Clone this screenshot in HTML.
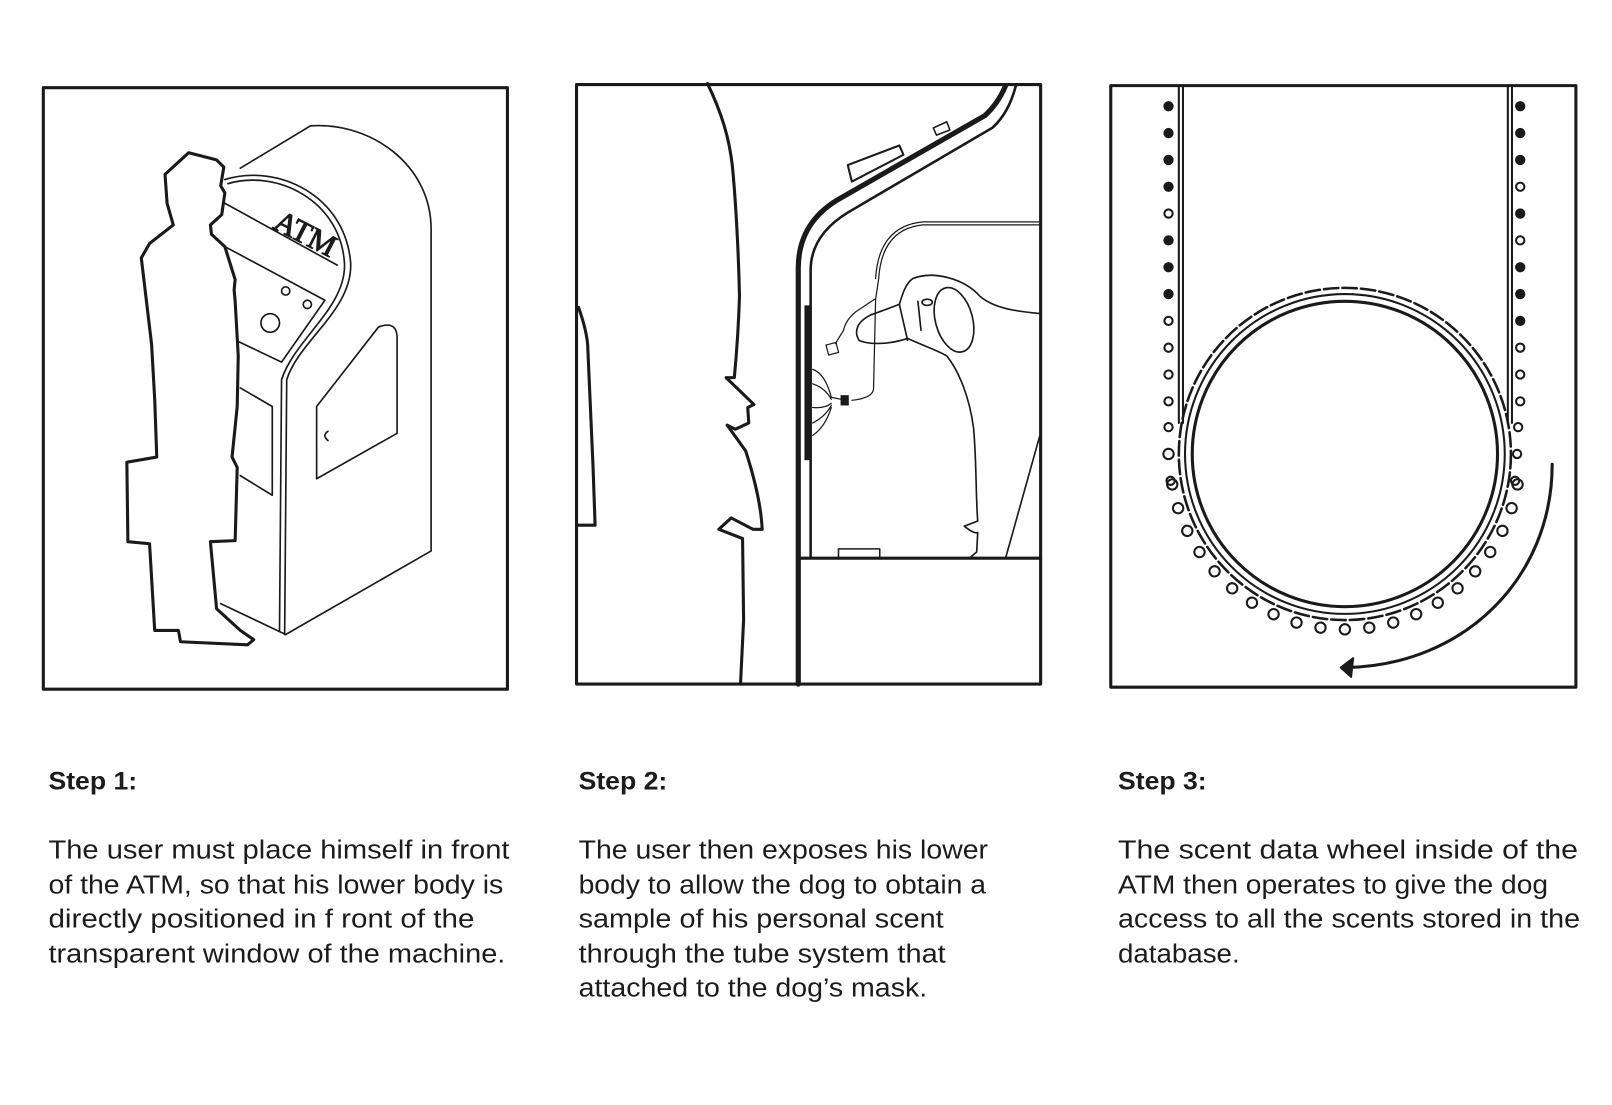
<!DOCTYPE html>
<html><head><meta charset="utf-8"><style>
html,body{margin:0;padding:0;background:#fff}
svg{display:block}
text{font-family:"Liberation Sans",sans-serif;fill:#1c1c1c}
</style></head><body>
<svg width="1612" height="1105" viewBox="0 0 1563 1071" preserveAspectRatio="none" xmlns="http://www.w3.org/2000/svg">
<rect width="1563" height="1071" fill="#fff"/>
<g fill="none" stroke="#1a1a1a" stroke-linejoin="round" stroke-linecap="round">
<!-- frames -->
<rect x="42" y="85" width="450" height="583" stroke-width="3"/>
<rect x="559" y="82" width="450" height="581" stroke-width="3"/>
<rect x="1077" y="83" width="451" height="583" stroke-width="3"/>

<!-- Panel 1 ATM -->
<g stroke-width="1.6">
<path d="M233,163 L301,122 C360,118 418,160 418,222 L418,534 L277,615"/>
<path d="M214,585 L277,615"/>
<path d="M218,174 C270,158 335,190 340,255 C342,300 290,330 278,368 L276,615"/>
<path d="M221,178 C268,164 330,194 334,255 C336,298 286,328 273,368 L271,612"/>
<path d="M218,197 L327,257"/>
<path d="M218,239 L315,291 L273,351 L229,330"/>
<circle cx="277" cy="282" r="4"/><circle cx="298" cy="295" r="4"/><circle cx="262" cy="313" r="9"/>
<path d="M233,376 L264,394 L264,480 L233,461"/>
<path d="M307,464 L307,394 L367,317 Q385,310 385,328 L385,420 Z"/>
<path d="M318,418 Q312,422 318,427"/>
</g>
<text x="268" y="222" font-size="30" transform="rotate(27 268 212)" style="font-family:'Liberation Serif',serif" fill="none" stroke="#1a1a1a" stroke-width="1">ATM</text>
<!-- man -->
<path fill="#fff" stroke-width="3" d="M160,169 L183,148 L210,155 L217,162 L214,180 L218,187 L215,208 L204,218 L205,227 L218,239 L228,271 L227,281 L228,292 L231,345 L230,394 L225,443 L230,453 L228,524 L204,525 L210,590 L233,611 L246,620 L240,625 L175,622 L173,611 L150,611 L145,527 L124,525 L123,448 L152,443 L150,387 L147,334 L137,250 L145,236 L168,218 L162,197 Z"/>

<!-- Panel 2 -->
<path stroke-width="3" d="M686,81 C700,110 707,134 710,160 C713,190 716,240 717,287 C716,320 714,345 712,366 L704,366 L731,392 L725,395 L726,410 L713,416 L705,412 L723,437 C732,465 738,490 739,513 L730,513 L709,502 L697,513 L720,522 L721,601 L718,663"/>
<path stroke-width="3" d="M561,298 C567,315 570,330 570,339 L575,452 L577,509 L559,509"/>
<path stroke-width="5" d="M774,663 L774,260 Q774,215 815,192 L955,112 Q968,100 975,83"/>
<path stroke-width="2.5" d="M786,541 L786,262 Q786,228 822,206 L962,124 Q978,110 985,83"/>
<path stroke-width="3" d="M774,541 L1009,541"/>
<path stroke-width="1.5" d="M813,541 L813,532 L853,532 L853,541"/>
<path stroke-width="2" d="M822,160 L872,141 L876,150 L826,176 Z"/>
<path stroke-width="1.5" d="M905,124 L918,118 L921,126 L908,131 Z"/>
<rect x="780" y="296" width="6" height="150" fill="#1a1a1a" stroke="none"/>
<!-- tubes -->
<g stroke-width="1.2">
<path d="M1009,218 L895,218 Q855,222 852,270 L849,290 L847,377 Q846,386 826,388"/>
<path d="M1009,215 L895,215 Q852,219 849,270"/>
<path d="M788,358 Q800,362 806,385 L820,388 M788,372 Q800,376 806,387 M788,395 Q800,396 806,391 M788,410 Q800,404 806,393 M788,422 Q800,414 806,395"/>
<path d="M848,290 L830,302 Q820,310 818,320 L810,333"/>
<rect x="802" y="333" width="10" height="10" transform="rotate(-15 807 338)"/>
</g>
<rect x="815" y="383" width="8" height="10" fill="#1a1a1a" stroke="none"/>
<!-- dog -->
<g stroke-width="1.6">
<path d="M1009,304 C990,302 965,300 950,287 C935,270 905,262 885,270 C878,275 875,285 872,295 L845,305 C830,312 828,322 833,330 C845,335 865,333 880,328 C895,335 910,340 918,345 C930,360 940,385 944,415 C947,450 946,480 948,505 L935,510 Q945,518 948,516 L947,535 L940,541"/>
<ellipse cx="925" cy="310" rx="18" ry="32" transform="rotate(-15 925 310)"/>
<ellipse cx="899" cy="293" rx="5" ry="3"/>
<path d="M872,295 L880,330 M890,292 L893,320"/>
<path d="M1008,423 L975,541"/>
</g>

<!-- Panel 3 -->
<g stroke-width="2">
<path d="M1143,83 L1143,410 M1147,83 L1147,410 M1462,83 L1462,410 M1466,83 L1466,410"/>
</g>
<circle cx="1304" cy="440" r="148" stroke-width="3"/>
<circle cx="1304" cy="440" r="155" stroke-width="2"/>
<circle cx="1304" cy="440" r="161" stroke-width="2.5" stroke-dasharray="14 4"/>
<g stroke-width="2">
<circle cx="1133" cy="103" r="4" fill="#1a1a1a"/><circle cx="1133" cy="129" r="4" fill="#1a1a1a"/><circle cx="1133" cy="155" r="4" fill="#1a1a1a"/><circle cx="1133" cy="181" r="4" fill="#1a1a1a"/><circle cx="1133" cy="207" r="4"/><circle cx="1133" cy="233" r="4" fill="#1a1a1a"/><circle cx="1133" cy="259" r="4" fill="#1a1a1a"/><circle cx="1133" cy="285" r="4" fill="#1a1a1a"/><circle cx="1133" cy="311" r="4"/><circle cx="1133" cy="337" r="4"/><circle cx="1133" cy="363" r="4"/><circle cx="1133" cy="389" r="4"/><circle cx="1133" cy="414" r="4"/><circle cx="1133" cy="440" r="5"/><circle cx="1135" cy="466" r="4"/>
<circle cx="1474" cy="103" r="4" fill="#1a1a1a"/><circle cx="1474" cy="129" r="4" fill="#1a1a1a"/><circle cx="1474" cy="155" r="4" fill="#1a1a1a"/><circle cx="1474" cy="181" r="4"/><circle cx="1474" cy="207" r="4" fill="#1a1a1a"/><circle cx="1474" cy="233" r="4"/><circle cx="1474" cy="259" r="4" fill="#1a1a1a"/><circle cx="1474" cy="285" r="4" fill="#1a1a1a"/><circle cx="1474" cy="311" r="4" fill="#1a1a1a"/><circle cx="1474" cy="337" r="4"/><circle cx="1474" cy="363" r="4"/><circle cx="1474" cy="389" r="4"/><circle cx="1472" cy="414" r="4"/><circle cx="1471" cy="440" r="4"/><circle cx="1469" cy="466" r="4"/>
<g id="b"><circle cx="1304" cy="610" r="5"/></g>
<use href="#b" transform="rotate(-80 1304 440)"/><use href="#b" transform="rotate(-72 1304 440)"/><use href="#b" transform="rotate(-64 1304 440)"/><use href="#b" transform="rotate(-56 1304 440)"/><use href="#b" transform="rotate(-48 1304 440)"/><use href="#b" transform="rotate(-40 1304 440)"/><use href="#b" transform="rotate(-32 1304 440)"/><use href="#b" transform="rotate(-24 1304 440)"/><use href="#b" transform="rotate(-16 1304 440)"/><use href="#b" transform="rotate(-8 1304 440)"/><use href="#b" transform="rotate(8 1304 440)"/><use href="#b" transform="rotate(16 1304 440)"/><use href="#b" transform="rotate(24 1304 440)"/><use href="#b" transform="rotate(32 1304 440)"/><use href="#b" transform="rotate(40 1304 440)"/><use href="#b" transform="rotate(48 1304 440)"/><use href="#b" transform="rotate(56 1304 440)"/><use href="#b" transform="rotate(64 1304 440)"/><use href="#b" transform="rotate(72 1304 440)"/><use href="#b" transform="rotate(80 1304 440)"/>
</g>
<path stroke-width="3" d="M1505,450 C1505,560 1420,645 1305,647"/>
<path d="M1300,647 L1312,638 L1310,656 Z" fill="#1a1a1a" stroke-width="2"/>
</g>

<!-- text -->
<g font-size="25">
<text x="47" y="765" font-weight="bold" font-size="24" textLength="86" lengthAdjust="spacingAndGlyphs">Step 1:</text>
<text x="47" y="832" textLength="447" lengthAdjust="spacingAndGlyphs">The user must place himself in front</text>
<text x="47" y="866" textLength="441" lengthAdjust="spacingAndGlyphs">of the ATM, so that his lower body is</text>
<text x="47" y="899" textLength="413" lengthAdjust="spacingAndGlyphs">directly positioned in f  ront of the</text>
<text x="47" y="933" textLength="443" lengthAdjust="spacingAndGlyphs">transparent window of the machine.</text>

<text x="561" y="765" font-weight="bold" font-size="24" textLength="86" lengthAdjust="spacingAndGlyphs">Step 2:</text>
<text x="561" y="832" textLength="397" lengthAdjust="spacingAndGlyphs">The user then exposes his lower</text>
<text x="561" y="866" textLength="395" lengthAdjust="spacingAndGlyphs">body to allow the dog to obtain a</text>
<text x="561" y="899" textLength="354" lengthAdjust="spacingAndGlyphs">sample of his personal scent</text>
<text x="561" y="933" textLength="356" lengthAdjust="spacingAndGlyphs">through the tube system that</text>
<text x="561" y="966" textLength="338" lengthAdjust="spacingAndGlyphs">attached to the dog’s mask.</text>

<text x="1084" y="765" font-weight="bold" font-size="24" textLength="86" lengthAdjust="spacingAndGlyphs">Step 3:</text>
<text x="1084" y="832" textLength="446" lengthAdjust="spacingAndGlyphs">The scent data wheel inside of the</text>
<text x="1084" y="866" textLength="417" lengthAdjust="spacingAndGlyphs">ATM then operates to give the dog</text>
<text x="1084" y="899" textLength="448" lengthAdjust="spacingAndGlyphs">access to all the scents stored in the</text>
<text x="1084" y="933" textLength="118" lengthAdjust="spacingAndGlyphs">database.</text>
</g>
</svg>
</body></html>
